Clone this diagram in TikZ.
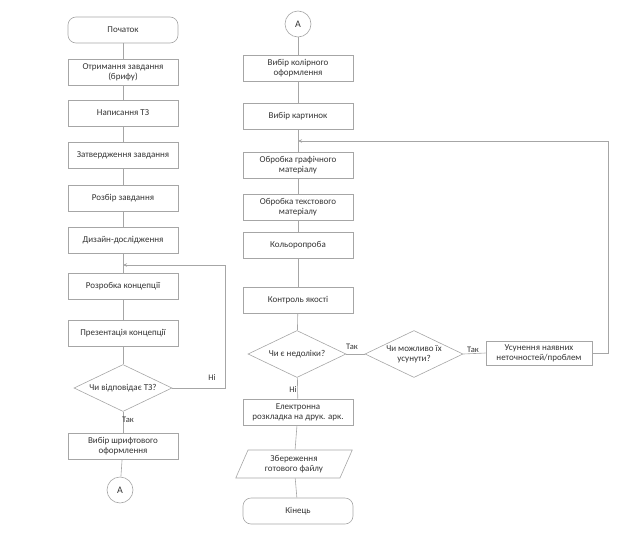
\documentclass[tikz,border=0pt]{standalone}
\usepackage{fontspec}
\setmainfont{Carlito}
\usetikzlibrary{shapes.geometric,arrows.meta}
\begin{document}
\begin{tikzpicture}[x=1pt,y=1pt,
  every node/.style={font=\fontsize{9}{10}\selectfont, text=black!80},
  box/.style={draw=black!35, line width=0.6pt, minimum width=110, minimum height=26, align=center, inner sep=0.5pt},
  term/.style={box, rounded corners=8},
  dec/.style={draw=black!35, line width=0.6pt, shape=diamond, minimum width=98, minimum height=47, inner sep=0pt},
  io/.style={draw=black!35, line width=0.6pt, trapezium, trapezium left angle=67, trapezium right angle=113, minimum width=117, minimum height=28, align=center, inner sep=0.5pt, trapezium stretches=true},
  conn/.style={draw=black!35, line width=0.6pt, circle, minimum size=26, inner sep=0pt, font=\fontsize{10}{11}\selectfont},
  dtext/.style={align=center, inner sep=0pt},
  line/.style={draw=black!35, line width=0.6pt},
  back/.style={line, -{Stealth[length=4pt,width=3.5pt]}},
  lbl/.style={font=\fontsize{8.5}{9.5}\selectfont}
]
\useasboundingbox (0,0) rectangle (634,-554);
% left column
\node[term] (start) at (123,-30) {Початок};
\node[box] (b1) at (123,-72) {Отримання завдання\\(брифу)};
\node[box] (b2) at (123,-113) {Написання ТЗ};
\node[box] (b3) at (123,-155) {Затвердження завдання};
\node[box] (b4) at (123,-198) {Розбір завдання};
\node[box] (b5) at (123,-240) {Дизайн-дослідження};
\node[box] (b6) at (123,-286) {Розробка концепції};
\node[box] (b7) at (123,-333) {Презентація концепції};
\node[dec] (d1) at (123,-388) {};
\node[dtext] (d1t) at (d1) {Чи відповідає ТЗ?};
\node[box] (b8) at (123,-446) {Вибір шрифтового\\оформлення};
\node[conn] (A1) at (120,-490) {A};
\coordinate (j1) at (123,-265);
\coordinate (l1a) at (225,-388);
\coordinate (l1b) at (225,-265);
\draw[line] (start) -- (b1);
\draw[line] (b1) -- (b2);
\draw[line] (b2) -- (b3);
\draw[line] (b3) -- (b4);
\draw[line] (b4) -- (b5);
\draw[line] (b5) -- (b6);
\draw[line] (b6) -- (b7);
\draw[line] (b7) -- (d1);
\draw[line] (d1) -- (b8);
\draw[line] (b8) -- (A1);
\draw[back] (d1.east) -- (l1a) -- (l1b) -- (j1);
\node[lbl] at (212,-378) {Ні};
\node[lbl] at (128,-420) {Так};
% right column
\node[conn] (A2) at (298,-24) {A};
\node[box] (r1) at (298,-68) {Вибір колірного\\оформлення};
\node[box] (r2) at (298,-116) {Вибір картинок};
\node[box] (r3) at (298,-165) {Обробка графічного\\матеріалу};
\node[box] (r4) at (298,-207) {Обробка текстового\\матеріалу};
\node[box] (r5) at (298,-245) {Кольоропроба};
\node[box] (r6) at (298,-300) {Контроль якості};
\node[dec] (d2) at (297,-354) {};
\node[dtext] (d2t) at (d2) {Чи є недоліки?};
\node[dec] (d3) at (414,-354) {};
\node[dtext] (d3t) at (d3) {Чи можливо їх\\усунути?};
\node[box, minimum width=106, minimum height=24] (fix) at (539,-353) {Усунення наявних\\неточностей/проблем};
\node[box] (r7) at (298,-412) {Електронна\\розкладка на друк. арк.};
\node[io] (save) at (294,-464) {Збереження\\готового файлу};
\node[term] (end) at (298,-511) {Кінець};
\coordinate (j2) at (298,-141);
\coordinate (l2a) at (608,-353);
\coordinate (l2b) at (608,-141);
\draw[line] (A2) -- (r1);
\draw[line] (r1) -- (r2);
\draw[line] (r2) -- (r3);
\draw[line] (r3) -- (r4);
\draw[line] (r4) -- (r5);
\draw[line] (r5) -- (r6);
\draw[line] (r6) -- (d2);
\draw[line] (d2) -- (r7);
\draw[line] (r7) -- (save);
\draw[line] (save) -- (end);
\draw[line] (d2.east) -- (d3.west);
\draw[line] (d3.east) -- (fix.west);
\draw[back] (fix.east) -- (l2a) -- (l2b) -- (j2);
\node[lbl] at (352,-347) {Так};
\node[lbl] at (473,-350) {Так};
\node[lbl] at (293,-390) {Ні};
\end{tikzpicture}
\end{document}
